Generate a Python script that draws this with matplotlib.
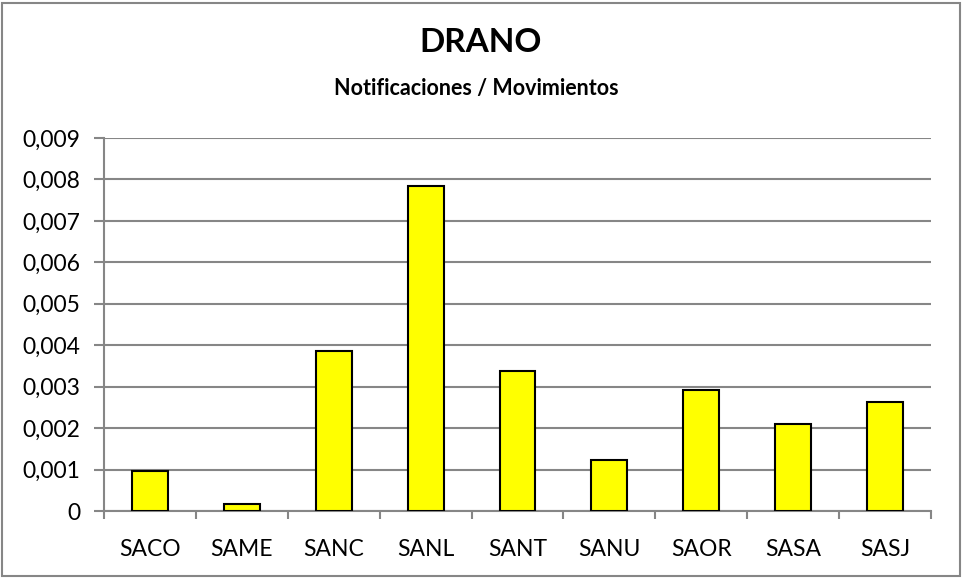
import matplotlib
matplotlib.use("Agg")
import matplotlib.pyplot as plt
from matplotlib.patches import Rectangle
from matplotlib.ticker import FixedLocator, FuncFormatter

categories = ["SACO", "SAME", "SANC", "SANL", "SANT", "SANU", "SAOR", "SASA", "SASJ"]
values = [0.00096, 0.00018, 0.00385, 0.00785, 0.00337, 0.00124, 0.00293, 0.00211, 0.00264]
yticks = [0, 0.001, 0.002, 0.003, 0.004, 0.005, 0.006, 0.007, 0.008, 0.009]
title = "DRANO"
subtitle = "Notificaciones / Movimientos"

plt.rcParams['font.family'] = ['Lato', 'DejaVu Sans']
W, H = 963, 578
fig = plt.figure(figsize=(W/100, H/100), dpi=100)
fig.patches.append(Rectangle((2/W, 2/H), (W-5)/W, (H-5)/H, transform=fig.transFigure,
                             fill=False, edgecolor='#868686', linewidth=1.5))

ax = fig.add_axes([104/W, 1-511/H, (931-104)/W, (511-138)/H])
x = list(range(len(categories)))
ax.bar(x, values, width=0.39, color='#FFFF00', edgecolor='black', linewidth=1.5, zorder=3)
ax.set_xlim(-0.5, len(categories)-0.5)
ax.set_ylim(0, 0.009)
ax.yaxis.set_major_locator(FixedLocator(yticks))
ax.yaxis.set_major_formatter(FuncFormatter(lambda v, p: "0" if v == 0 else f"{v:.3f}".replace(".", ",")))
ax.grid(axis='y', color='#868686', linewidth=1.5, zorder=0)
for s in ['top', 'right']:
    ax.spines[s].set_visible(False)
for s in ['left', 'bottom']:
    ax.spines[s].set_color('#868686')
    ax.spines[s].set_linewidth(1.5)
ax.set_xticks(x)
ax.set_xticklabels(categories)
ax.set_xticks([i - 0.5 for i in range(len(categories)+1)], minor=True)
ax.tick_params(axis='x', which='major', length=0, pad=20, labelsize=16.5)
ax.tick_params(axis='x', which='minor', length=6, width=1.5, color='#868686')
ax.tick_params(axis='y', length=7, width=1.5, color='#868686', labelsize=16.5, pad=10)

fig.text(481/W, 1-42/H, title, ha='center', va='center', fontsize=24, fontweight='bold')
fig.text(476/W, 1-89/H, subtitle, ha='center', va='center', fontsize=15.5, fontweight='bold')

fig.savefig("out.png", dpi=100)
